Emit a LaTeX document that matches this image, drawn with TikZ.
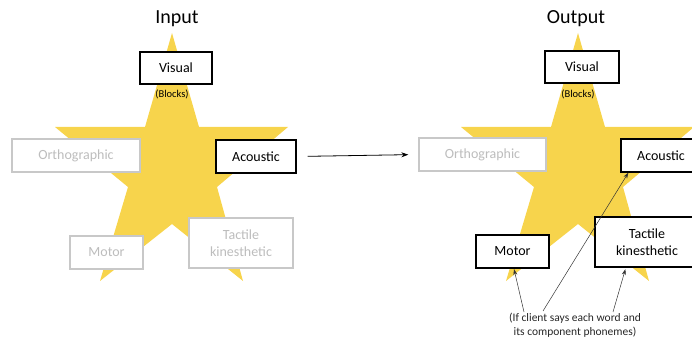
\documentclass[tikz,border=0pt]{standalone}
\usepackage{fontspec}
\setmainfont{Carlito}
\usetikzlibrary{calc,arrows.meta}
\definecolor{staryellow}{HTML}{F7D44C}
\definecolor{dimtext}{HTML}{BDBDBD}
\definecolor{dimline}{HTML}{C8C8C8}
\begin{document}
\begin{tikzpicture}[x=1pt,y=-1pt,
  starshape/.style={fill=staryellow,draw=none},
  onbox/.style={draw=black,line width=1.2pt,fill=white,inner sep=0pt,align=center,font=\fontsize{14}{17}\selectfont},
  offbox/.style={draw=dimline,line width=1.3pt,fill=white,inner sep=0pt,align=center,text=dimtext,font=\fontsize{14}{17}\selectfont},
  title/.style={font=\fontsize{20}{24}\selectfont},
  small/.style={font=\fontsize{10.5}{12}\selectfont},
  note/.style={align=center,text=black!85,font=\fontsize{11.5}{14}\selectfont},
  pointer/.style={-{Stealth[length=6pt,width=4pt]},line width=0.5pt,black!80}]
\path[use as bounding box] (0,0) rectangle (692,339);
\clip (0,0) rectangle (692,339);
% stars
\foreach \dx in {0,406}{
  \fill[starshape,xshift=\dx] (172,33) -- (199,127) -- (288,127) -- (217,187) -- (243,281)
    -- (172,224) -- (100,281) -- (128,187) -- (55,127) -- (145,127) -- cycle;
}
% titles
\node[title] (tin) at (177,19) {Input};
\node[title] (tout) at (576,19) {Output};
% left star boxes
\node[onbox,minimum width=72pt,minimum height=32pt] (lvis) at (176,68) {Visual};
\node[small] (lblk) at (172,94) {(Blocks)};
\node[offbox,minimum width=128pt,minimum height=33pt] (lorth) at (76,155.5) {Orthographic};
\node[onbox,minimum width=80pt,minimum height=33pt] (lacou) at (256,156.5) {Acoustic};
\node[offbox,minimum width=73pt,minimum height=33pt] (lmot) at (106.5,252.5) {Motor};
\node[offbox,minimum width=104pt,minimum height=50pt] (ltac) at (241,243) {Tactile\\kinesthetic};
% right star boxes
\node[onbox,minimum width=74pt,minimum height=32pt] (rvis) at (582,67) {Visual};
\node[small] (rblk) at (578,94) {(Blocks)};
\node[offbox,minimum width=127pt,minimum height=33pt] (rorth) at (482.5,154.5) {Orthographic};
\node[onbox,minimum width=80pt,minimum height=33pt] (racou) at (661,155.5) {Acoustic};
\node[onbox,minimum width=73pt,minimum height=33pt] (rmot) at (512.5,251.5) {Motor};
\node[onbox,minimum width=104pt,minimum height=50pt] (rtac) at (647,242) {Tactile\\kinesthetic};
% main arrow
\draw[-{Stealth[length=7pt,width=5pt]},line width=0.8pt,shorten <=11pt,shorten >=10pt] (lacou.east) -- (rorth.west);
% note
\node[note] (nt) at (575,325) {(If client says each word and\\its component phonemes)};
\coordinate (s1) at (524,312);
\coordinate (s2) at (543,311);
\coordinate (s3) at (613,312);
\draw[pointer] (s1) -- ($(rmot.south)+(1.5,0.5)$);
\draw[pointer] (s2) -- ($(racou.south west)+(8,0)$);
\draw[pointer] (s3) -- ($(rtac.south west)+(31,1.5)$);
\end{tikzpicture}
\end{document}
